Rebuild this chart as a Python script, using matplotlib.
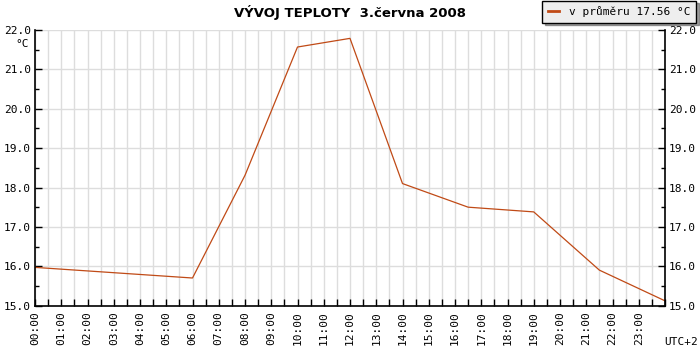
"""
Vývoj teploty 3. června 2008 — denní průběh, osa X v hodinách (0–24).
Uloží out.png (700x350).
"""
import numpy as np
import matplotlib
matplotlib.use("Agg")
import matplotlib.pyplot as plt
from matplotlib.ticker import MultipleLocator, FormatStrFormatter

# měřené body (hodina dne, teplota °C)
hours = [0, 6, 8, 10, 12, 14, 16.5, 19, 21.5, 24]
temps = [15.97, 15.70, 18.31, 21.57, 21.79, 18.10, 17.50, 17.38, 15.90, 15.12]
hour_labels = [f"{h:02d}:00" for h in range(24)]
mean_label = "v průměru 17.56 °C"

LINE = "#c04a16"
GRID = "#dddddd"
MONO = "DejaVu Sans Mono"


def main():
    fig = plt.figure(figsize=(7, 3.5), dpi=100)
    ax = fig.add_axes([0.05, 0.127, 0.9, 0.787])

    ax.plot(hours, temps, color=LINE, lw=0.9, label=mean_label)

    ax.set_xlim(0, 24)
    ax.set_ylim(15, 22)

    # X: popisky po hodinách, mřížka i značky po půlhodinách
    ax.set_xticks(range(24))
    ax.set_xticklabels(hour_labels, rotation=90, family=MONO, fontsize=8)
    ax.xaxis.set_minor_locator(MultipleLocator(0.5))

    # Y: oba boky, hlavní po 1.0, vedlejší po 0.5
    ax.yaxis.set_major_locator(MultipleLocator(1.0))
    ax.yaxis.set_minor_locator(MultipleLocator(0.5))
    ax.yaxis.set_major_formatter(FormatStrFormatter("%.1f"))
    ax.tick_params(axis="y", which="both", left=True, right=True,
                   labelleft=True, labelright=True, direction="in",
                   labelsize=8, pad=3)
    ax.tick_params(axis="y", which="major", length=5, width=1)
    ax.tick_params(axis="y", which="minor", length=3, width=1)
    ax.tick_params(axis="x", which="both", direction="in", length=5,
                   width=1, pad=4, labelsize=8)
    for lab in ax.get_yticklabels():
        lab.set_family(MONO)

    ax.grid(True, which="major", axis="y", color=GRID, lw=1)
    ax.grid(True, which="both", axis="x", color=GRID, lw=1)
    ax.set_axisbelow(True)

    ax.spines["top"].set_visible(False)
    for s in ("left", "right", "bottom"):
        ax.spines[s].set_color("black")
        ax.spines[s].set_linewidth(1.2)

    fig.text(0.5, 0.965, "VÝVOJ TEPLOTY  3.června 2008", ha="center",
             va="center", fontsize=9.5, fontweight="bold")
    fig.text(0.032, 0.875, "°C", ha="center", va="center",
             family=MONO, fontsize=8)
    fig.text(0.997, 0.022, "UTC+2", ha="right", va="center",
             family=MONO, fontsize=8)

    leg = fig.legend(loc="upper right", bbox_to_anchor=(0.994, 0.998),
                     prop={"family": MONO, "size": 8}, frameon=True,
                     fancybox=False, shadow=True, handlelength=1.0,
                     borderpad=0.5, handletextpad=0.9, borderaxespad=0)
    leg.get_frame().set_facecolor("#eeeeee")
    leg.get_frame().set_edgecolor("black")
    leg.get_frame().set_linewidth(1.0)
    for h in leg.legend_handles:
        h.set_linewidth(2.0)

    fig.savefig("out.png", dpi=100)


if __name__ == "__main__":
    main()
